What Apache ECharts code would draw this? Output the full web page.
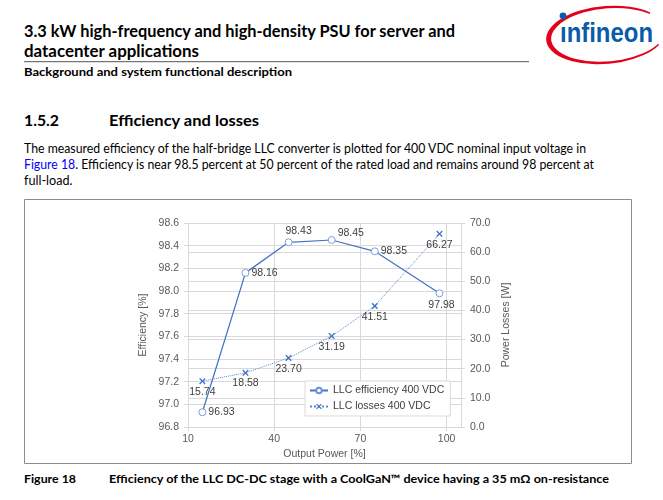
<!DOCTYPE html>
<html><head><meta charset="utf-8">
<script src="https://cdn.jsdelivr.net/npm/echarts@6/dist/echarts.min.js"></script>
<style>
html,body{margin:0;padding:0;background:#fff;}
#page{position:relative;width:663px;height:500px;overflow:hidden;background:#fff;}
#doc{position:absolute;left:0;top:0;}
#chart{position:absolute;left:0;top:0;width:663px;height:500px;}
</style></head><body>
<div id="page">
<svg id="doc" width="663" height="500" xmlns="http://www.w3.org/2000/svg">
 <g font-family="Lato, 'Noto Sans', sans-serif" fill="#000">
  <text x="24" y="37.3" font-size="17" font-weight="700" textLength="431" lengthAdjust="spacingAndGlyphs">3.3 kW high-frequency and high-density PSU for server and</text>
  <text x="24" y="56.7" font-size="17" font-weight="700" textLength="175" lengthAdjust="spacingAndGlyphs">datacenter applications</text>
  <line x1="24" y1="61.7" x2="529" y2="61.7" stroke="#555" stroke-width="1"/>
  <text x="24" y="75.7" font-size="11.5" font-weight="700" textLength="268" lengthAdjust="spacingAndGlyphs">Background and system functional description</text>
  <text x="24" y="126" font-size="15.5" font-weight="700" textLength="35" lengthAdjust="spacingAndGlyphs">1.5.2</text>
  <text x="109" y="126" font-size="15.5" font-weight="700" textLength="150" lengthAdjust="spacingAndGlyphs">Efficiency and losses</text>
  <text x="24" y="153.3" font-size="13.5" textLength="562" lengthAdjust="spacingAndGlyphs">The measured efficiency of the half-bridge LLC converter is plotted for 400 VDC nominal input voltage in</text>
  <text x="24" y="169" font-size="13.5" textLength="570" lengthAdjust="spacingAndGlyphs"><tspan fill="#0000ff">Figure 18</tspan>. Efficiency is near 98.5 percent at 50 percent of the rated load and remains around 98 percent at</text>
  <text x="24" y="184.5" font-size="13.5" textLength="48.5" lengthAdjust="spacingAndGlyphs">full-load.</text>
  <text x="24" y="483.3" font-size="11.5" font-weight="700" textLength="52" lengthAdjust="spacingAndGlyphs">Figure 18</text>
  <text x="109" y="483.3" font-size="11.5" font-weight="700" textLength="500" lengthAdjust="spacingAndGlyphs">Efficiency of the LLC DC-DC stage with a CoolGaN™ device having a 35 mΩ on-resistance</text>
 </g>
 <g transform="translate(606,35) rotate(-5)">
  <path fill="#e2001a" d="M 45.96,-18.64 A 60 29 0 1 0 51.96,14.5 L 51.36,13.25 A 57 26.5 0 1 1 45.66,-17.03 Z"/>
 </g>
 <g fill="#0a5ca9" font-family="'Liberation Sans Narrow','Liberation Sans',Arial,sans-serif" font-weight="700">
  <text x="560" y="42.3" font-size="27" textLength="93" lengthAdjust="spacingAndGlyphs">ınfineon</text>
  <circle cx="563" cy="15.8" r="3.4"/>
 </g>
</svg>
<div id="chart"></div>
</div>
<script>
// ---- data ----
const outputPower = [15, 30, 45, 60, 75, 97.5];           // Output Power [%]
const efficiency  = [96.93, 98.16, 98.43, 98.45, 98.35, 97.98]; // Efficiency [%]
const losses      = [15.74, 18.58, 23.70, 31.19, 41.51, 66.27]; // Power Losses [W]
const xTicks      = [10, 40, 70, 100];
const effTicks    = [96.8, 97.0, 97.2, 97.4, 97.6, 97.8, 98.0, 98.2, 98.4, 98.6];
const lossTicks   = [0, 10, 20, 30, 40, 50, 60, 70];
const seriesNames = ['LLC efficiency 400 VDC', 'LLC losses 400 VDC'];

const FONT = "'Liberation Sans', Arial, sans-serif";
const TXT = '#595959', LBL = '#404040', GRID = '#d9d9d9', BLUE = '#4472C4';

// label placement for efficiency points (by index)
function effLabel(i) {
  const base = {show: true, fontSize: 10.5, color: LBL, fontFamily: FONT, distance: 2};
  if (i === 2) return Object.assign(base, {position: 'top', offset: [10, 0]});
  if (i === 3) return Object.assign(base, {position: 'right', offset: [0, -7]});
  if (i === 5) return Object.assign(base, {position: 'bottom', offset: [2, 0]});
  return Object.assign(base, {position: 'right'});
}

const chart = echarts.init(document.getElementById('chart'), null, {renderer: 'canvas'});
const xStep = xTicks[1] - xTicks[0];
chart.setOption({
  animation: false,
  grid: {left: 188, right: 202, top: 223, bottom: 73, containLabel: false},
  graphic: [{
    type: 'rect', silent: true, z: -10,
    shape: {x: 24.5, y: 199.5, width: 607, height: 264},
    style: {fill: 'none', stroke: '#8c8c8c', lineWidth: 1}
  }],
  legend: {
    left: 305, top: 381, orient: 'vertical',
    backgroundColor: '#fff', borderColor: GRID, borderWidth: 1,
    padding: [4, 6, 4, 4], itemGap: 5, itemWidth: 18, itemHeight: 7,
    textStyle: {fontSize: 10.5, color: LBL, fontFamily: FONT},
    data: seriesNames
  },
  xAxis: {
    type: 'value', min: xTicks[0], max: 105, interval: xStep,
    name: 'Output Power [%]', nameLocation: 'middle', nameGap: 22,
    nameTextStyle: {fontSize: 10.5, color: TXT, fontFamily: FONT},
    axisLine: {show: true, lineStyle: {color: GRID}},
    axisTick: {show: true, length: 4, lineStyle: {color: GRID}},
    axisLabel: {fontSize: 10.5, color: TXT, fontFamily: FONT, margin: 7, showMaxLabel: false},
    splitLine: {show: true, lineStyle: {color: GRID}}
  },
  yAxis: [{
    type: 'value', min: effTicks[0], max: effTicks[effTicks.length - 1],
    interval: +(effTicks[1] - effTicks[0]).toFixed(1),
    name: 'Efficiency [%]', nameLocation: 'middle', nameGap: 39, nameRotate: 90,
    nameTextStyle: {fontSize: 10.5, color: TXT, fontFamily: FONT},
    axisLine: {show: true, lineStyle: {color: GRID}},
    axisTick: {show: true, length: 4, lineStyle: {color: GRID}},
    axisLabel: {fontSize: 10.5, color: TXT, fontFamily: FONT, margin: 9, formatter: v => v.toFixed(1)},
    splitLine: {show: true, lineStyle: {color: GRID}}
  }, {
    type: 'value', position: 'right', min: lossTicks[0], max: lossTicks[lossTicks.length - 1],
    interval: lossTicks[1] - lossTicks[0],
    name: 'Power Losses [W]', nameLocation: 'middle', nameGap: 40, nameRotate: 90,
    nameTextStyle: {fontSize: 10.5, color: TXT, fontFamily: FONT},
    axisLine: {show: true, lineStyle: {color: GRID}},
    axisTick: {show: true, length: 4, lineStyle: {color: GRID}},
    axisLabel: {fontSize: 10.5, color: TXT, fontFamily: FONT, margin: 9, formatter: v => v.toFixed(1)},
    splitLine: {show: true, lineStyle: {color: GRID}}
  }],
  series: [{
    name: seriesNames[0], type: 'line', yAxisIndex: 0, z: 4,
    data: outputPower.map((x, i) => ({value: [x, efficiency[i]], label: effLabel(i)})),
    symbol: 'circle', symbolSize: 7,
    lineStyle: {color: BLUE, width: 1.25},
    itemStyle: {color: '#ffffff', borderColor: '#6f93da', borderWidth: 0.9},
    label: {show: true, formatter: p => p.value[1].toFixed(2)}
  }, {
    name: seriesNames[1], type: 'line', yAxisIndex: 1, z: 3,
    data: outputPower.map((x, i) => [x, losses[i]]),
    symbol: 'path://M0,1.5 L1.5,0 L5,3.5 L8.5,0 L10,1.5 L6.5,5 L10,8.5 L8.5,10 L5,6.5 L1.5,10 L0,8.5 L3.5,5 Z',
    symbolSize: 6.5,
    lineStyle: {color: '#5b87d6', width: 1, type: 'dotted'},
    itemStyle: {color: '#4472C4'},
    label: {show: true, position: 'bottom', distance: 2, fontSize: 10.5, color: LBL, fontFamily: FONT,
            formatter: p => p.value[1].toFixed(2)}
  }]
});
</script>
</body></html>
